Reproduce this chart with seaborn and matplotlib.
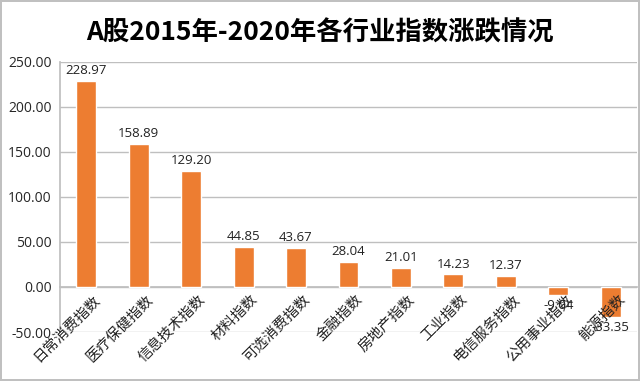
import matplotlib
matplotlib.use('Agg')
import matplotlib.pyplot as plt
import seaborn as sns
import numpy as np
import pandas as pd

categories = ['日常消费指数', '医疗保健指数', '信息技术指数', '材料指数', '可选消费指数',
              '金融指数', '房地产指数', '工业指数', '电信服务指数', '公用事业指数', '能源指数']
values = [228.97, 158.89, 129.20, 44.85, 43.67, 28.04, 21.01, 14.23, 12.37, -9.04, -33.35]
y_ticks = [-50, 0, 50, 100, 150, 200, 250]
title = 'A股2015年-2020年各行业指数涨跌情况'

sns.set_theme(style='white')
plt.rcParams['font.family'] = ['Noto Sans CJK SC', 'DejaVu Sans']
plt.rcParams['axes.unicode_minus'] = False

df = pd.DataFrame({'cat': categories, 'val': values})

fig = plt.figure(figsize=(6.4, 3.81), dpi=100)
fig.patch.set_edgecolor('#c0c0c0')
fig.patch.set_linewidth(1.5)
ax = fig.add_axes([0.094, 0.1286, 0.901, 0.709])

sns.barplot(data=df, x='cat', y='val', color='#ED7D31', width=0.38,
            saturation=1, ax=ax, zorder=3)

ax.set_ylim(-50, 250)
ax.set_xlim(-0.5, len(categories) - 0.5)
ax.set_yticks(y_ticks)
ax.set_yticklabels([f'{v:.2f}' for v in y_ticks], fontsize=10,
                   family=['Open Sans', 'DejaVu Sans'])
ax.yaxis.grid(True, color='#bfbfbf', linewidth=1, zorder=0)
ax.tick_params(axis='y', length=0, pad=6)

for s in ['top', 'right']:
    ax.spines[s].set_visible(False)
ax.spines['left'].set_color('#bfbfbf')
ax.spines['bottom'].set_position(('data', 0))
ax.spines['bottom'].set_color('#bfbfbf')

# category labels drawn as text so they sit above the bars
ax.set_xticks(np.arange(len(categories)))
ax.set_xticklabels([])
ax.set_xticks(np.arange(len(categories) + 1) - 0.5, minor=True)
ax.tick_params(axis='x', which='major', length=0)
ax.tick_params(axis='x', which='minor', length=4, color='#bfbfbf', direction='out')
ax.set_xlabel('')
ax.set_ylabel('')

for i, c in enumerate(categories):
    ax.annotate(c, xy=(i, 0), xytext=(5, -4), textcoords='offset points',
                rotation=45, ha='right', va='top', rotation_mode='anchor',
                fontsize=10.5, color='#222222', zorder=6, annotation_clip=False)

for i, v in enumerate(values):
    if v >= 0:
        ax.text(i, v + 4, f'{v:.2f}', ha='center', va='bottom', fontsize=9.5,
                family=['Open Sans', 'DejaVu Sans'], color='#222222', zorder=7)
    else:
        ax.text(i, v - 4, f'{v:.2f}', ha='center', va='top', fontsize=9.5,
                family=['Open Sans', 'DejaVu Sans'], color='#222222', zorder=7)

fig.text(0.5, 0.913, title, ha='center', va='center', fontsize=19,
         fontweight='bold', color='black')

fig.savefig('out.png', dpi=100)
